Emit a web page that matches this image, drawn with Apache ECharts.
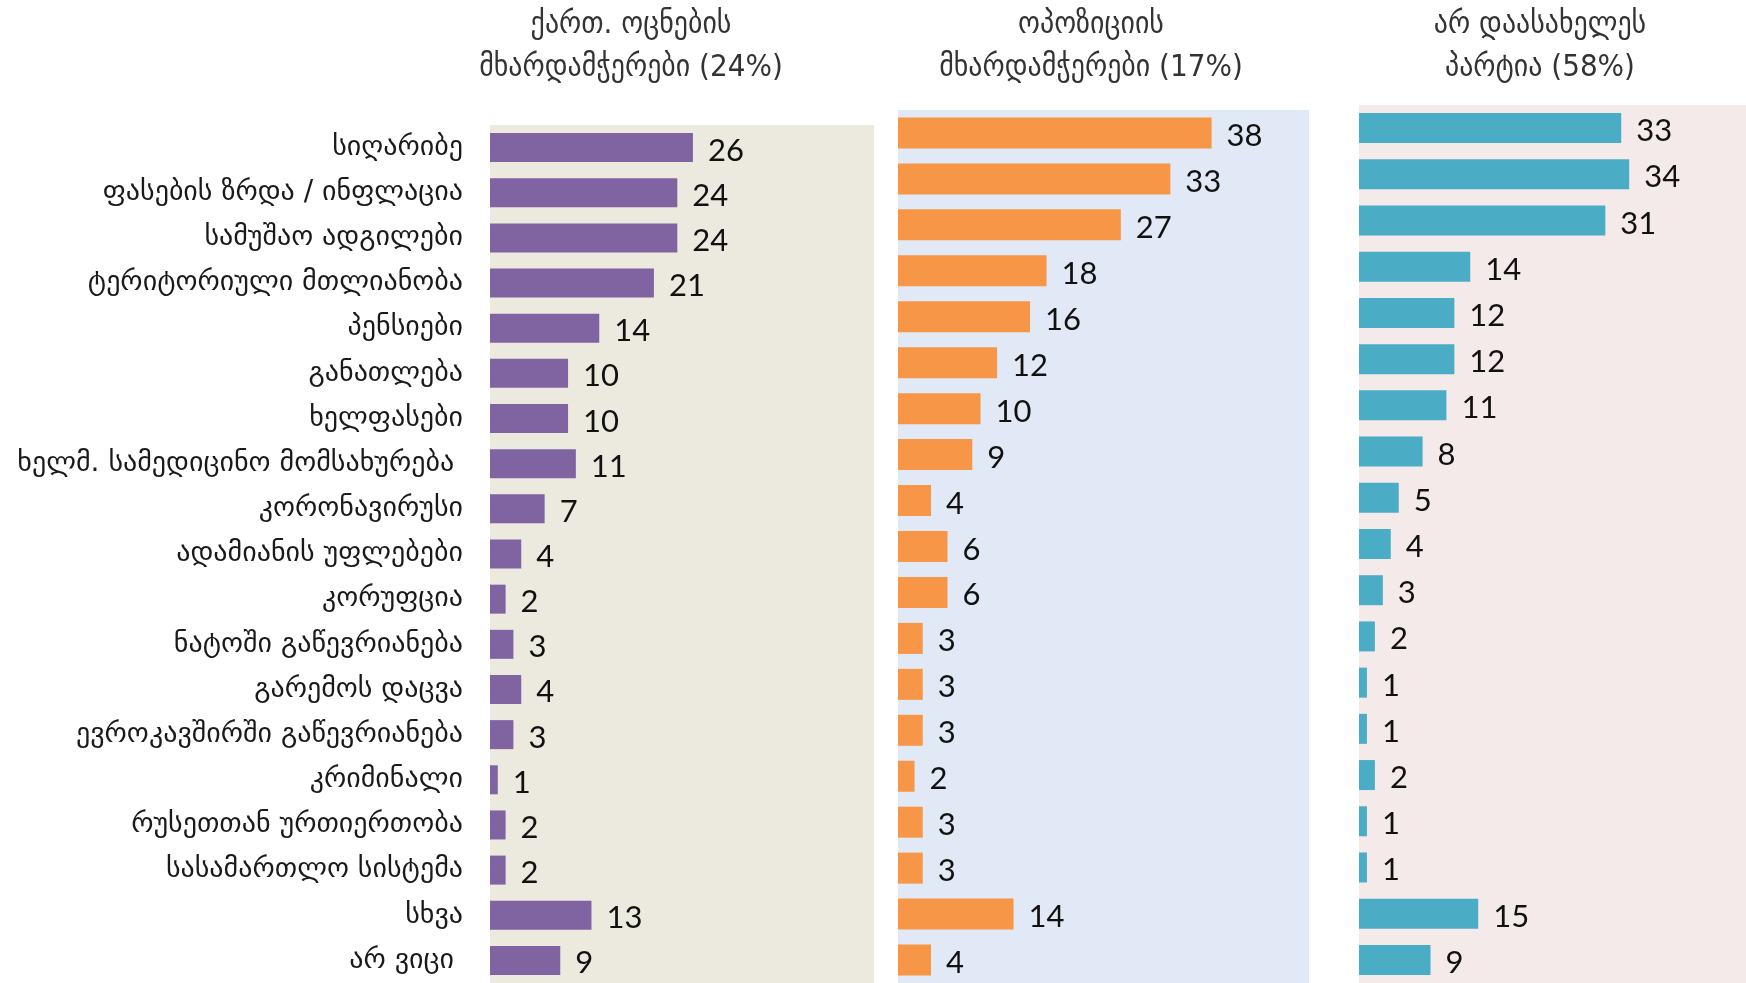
<!DOCTYPE html>
<html>
<head>
<meta charset="utf-8">
<script src="https://cdn.jsdelivr.net/npm/echarts@6/dist/echarts.min.js"></script>
<style>
  html, body { margin: 0; padding: 0; background: #fff; }
  #main { width: 1746px; height: 983px; }
</style>
</head>
<body>
<div id="main"></div>
<script>
// problem categories (top to bottom)
var categories = [
  'სიღარიბე',
  'ფასების ზრდა / ინფლაცია',
  'სამუშაო ადგილები',
  'ტერიტორიული მთლიანობა',
  'პენსიები',
  'განათლება',
  'ხელფასები',
  'ხელმ. სამედიცინო მომსახურება ',
  'კორონავირუსი',
  'ადამიანის უფლებები',
  'კორუფცია',
  'ნატოში გაწევრიანება',
  'გარემოს დაცვა',
  'ევროკავშირში გაწევრიანება',
  'კრიმინალი',
  'რუსეთთან ურთიერთობა',
  'სასამართლო სისტემა',
  'სხვა',
  'არ ვიცი '
];

var groupTitles = [
  'ქართ. ოცნების\nმხარდამჭერები (24%)',
  'ოპოზიციის\nმხარდამჭერები (17%)',
  'არ დაასახელეს\nპარტია (58%)'
];

// values in %
var dreamValues = [26, 24, 24, 21, 14, 10, 10, 11, 7, 4, 2, 3, 4, 3, 1, 2, 2, 13, 9];
var oppositionValues = [38, 33, 27, 18, 16, 12, 10, 9, 4, 6, 6, 3, 3, 3, 2, 3, 3, 14, 4];
var noPartyValues = [33, 34, 31, 14, 12, 12, 11, 8, 5, 4, 3, 2, 1, 1, 2, 1, 1, 15, 9];

var chart = echarts.init(document.getElementById('main'));

var panels = [
  { left: 490, width: 384, top: 125, max: 49.2, bg: '#ECE9DF', color: '#8064A2', barWidth: 29, data: dreamValues, tx: 631 },
  { left: 898, width: 411, top: 110, max: 49.8, bg: '#E0E9F5', color: '#F79646', barWidth: 31, data: oppositionValues, tx: 1091 },
  { left: 1359, width: 387, top: 105, max: 48.7, bg: '#F4EAEA', color: '#4BACC6', barWidth: 30, data: noPartyValues, tx: 1540 }
];

var option = {
  animation: false,
  backgroundColor: '#ffffff',
  grid: panels.map(function (p) {
    return { left: p.left, width: p.width, top: p.top, bottom: 0, show: true, backgroundColor: p.bg, borderWidth: 0 };
  }),
  xAxis: panels.map(function (p, i) {
    return { type: 'value', gridIndex: i, min: 0, max: p.max, show: false };
  }),
  yAxis: panels.map(function (p, i) {
    return {
      type: 'category', gridIndex: i, data: categories, inverse: true,
      axisLine: { show: false }, axisTick: { show: false },
      axisLabel: i === 0 ? {
        show: true, margin: 27, fontSize: 28, color: '#1a1a1a',
        fontFamily: 'DejaVu Sans'
      } : { show: false }
    };
  }),
  series: panels.map(function (p, i) {
    return {
      type: 'bar', xAxisIndex: i, yAxisIndex: i, data: p.data,
      barWidth: p.barWidth,
      itemStyle: { color: p.color },
      label: {
        show: true, position: 'right', distance: 15, offset: [0, 3],
        fontSize: 31, fontFamily: 'Lato', color: '#111'
      }
    };
  }),
  graphic: panels.map(function (p, i) {
    return {
      type: 'text', x: p.tx, y: 46,
      style: {
        text: groupTitles[i], textAlign: 'center', textVerticalAlign: 'middle',
        fontSize: 31, fontWeight: 'normal', fontFamily: 'DejaVu Sans Condensed',
        lineHeight: 43, fill: '#333333'
      }
    };
  })
};

chart.setOption(option);
</script>
</body>
</html>
